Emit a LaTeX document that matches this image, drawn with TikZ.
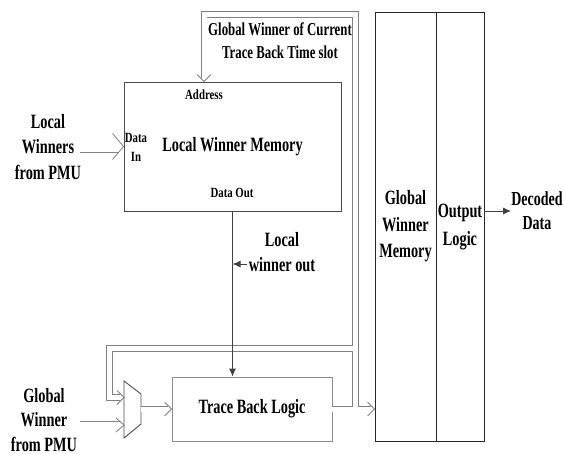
\documentclass[tikz,border=0pt]{standalone}
\usepackage{fontspec}
\setmainfont{Liberation Serif}
\usetikzlibrary{arrows.meta}

\begin{document}
\begin{tikzpicture}[x=1pt, y=-1pt,
	blk/.style={draw=black!70, line width=0.9pt, inner sep=0pt},
	txt/.style={font=\bfseries\fontsize{14.3}{18}\selectfont, align=center, yscale=1.42, transform shape, inner sep=0pt},
	sml/.style={font=\bfseries\fontsize{10.8}{15}\selectfont, align=center, yscale=1.3, transform shape, inner sep=0pt},
	bus/.style={double=white, double distance=#1, line width=0.8pt, draw=black!50},
	bus/.default=5pt,
	chev/.style={draw=black!50, line width=0.8pt, line join=miter},
	wire/.style={line width=0.9pt, draw=black!75, -{Latex[length=8pt,width=7pt]}}]
\useasboundingbox (0,0) rectangle (564,454);

% blocks
\path (232.5,146.5) node[blk, minimum width=217, minimum height=129] (lwm) {};
\path (252,409) node[blk, draw=black!45, minimum width=160, minimum height=64] (tbl) {};
\path (405.5,226.5) node[blk, draw=black!85, minimum width=61, minimum height=429] (gwm) {};
\path (460,226.5) node[blk, draw=black!85, minimum width=48, minimum height=429] (outl) {};

% mux
\coordinate (m1) at (124,381);
\coordinate (m2) at (141,394);
\coordinate (m3) at (141,424);
\coordinate (m4) at (124,438);
\draw[blk] (m1) -- (m2) -- (m3) -- (m4) -- cycle;
\coordinate (muxa) at (124,397.5);
\coordinate (muxb) at (124,425);
\coordinate (muxo) at (141,409);

% texts
\path (lwm.center) node[txt] (lwmtxt) {Local Winner Memory};
\path (204,95) node[sml] (addr) {Address};
\path (136,147) node[sml, font=\bfseries\fontsize{10.8}{14.6}\selectfont] (datain) {Data\\In};
\path (232,193) node[sml] (dataout) {Data Out};
\path (tbl.center) node[txt] (tbltxt) {Trace Back Logic};
\path (gwm.center) node[txt, font=\bfseries\fontsize{14.3}{18.7}\selectfont] (gwmtxt) {Global\\Winner\\Memory};
\path (460,227) node[txt, font=\bfseries\fontsize{14.3}{19.5}\selectfont] (outltxt) {Output\\Logic};
\path (537,210.5) node[txt, font=\bfseries\fontsize{14}{16.5}\selectfont] (dectxt) {Decoded\\Data};
\path (48,147) node[txt] (lwintxt) {Local\\Winners\\from PMU};
\path (44,420) node[txt, font=\bfseries\fontsize{14.3}{17}\selectfont] (gwintxt) {Global\\Winner\\from PMU};
\path (280,41) node[txt, font=\bfseries\fontsize{12.8}{16.2}\selectfont] (gwctxt) {Global Winner of Current\\Trace Back Time slot};
\path (282,252.5) node[txt, font=\bfseries\fontsize{14.3}{17.6}\selectfont] (lwotxt) {Local\\winner out};

% inputs
\coordinate (lwin) at (80,146.5);
\draw[bus=12pt, shorten >=5.5pt] (lwin) -- (lwm.west);
\draw[chev] ([shift={(-11,-13)}]lwm.west) -- (lwm.west) -- ([shift={(-11,13)}]lwm.west);
\coordinate (gwin) at (80,425);
\draw[bus=7pt, shorten >=3.5pt] (gwin) -- (muxb);
\draw[chev] ([shift={(-8,-7)}]muxb) -- (muxb) -- ([shift={(-8,7)}]muxb);
\draw[bus, shorten >=3.7pt] (muxo) -- (tbl.west);
\draw[chev] ([shift={(-7,-7)}]tbl.west) -- (tbl.west) -- ([shift={(-7,7)}]tbl.west);

% global winner bus
\coordinate (jn) at (355.5,409);
\coordinate (topr) at (355.5,14.5);
\coordinate (topl) at (204,14.5);
\coordinate (addrtl) at (204,60);
\coordinate (brr) at (355.5,348.5);
\coordinate (brl) at (109.5,348.5);
\coordinate (gwmin) at (gwm.west |- tbl.east);
\coordinate (addrin) at (topl |- lwm.north);
\draw[bus, shorten <=3.7pt, shorten >=3.7pt]
	(tbl.east) -- (jn)
	(brr) -- (topr) -- (topl) -- (addrtl)
	(muxa) -| (brl) -- (brr) -- (jn) -- (gwmin);
\draw[bus, shorten >=3.7pt] (addrtl) -- (addrin);
\draw[chev] ([shift={(-7,-7)}]muxa) -- (muxa) -- ([shift={(-7,7)}]muxa);
\draw[chev] ([shift={(-7,-7)}]gwmin) -- (gwmin) -- ([shift={(-7,7)}]gwmin);
\draw[chev] ([shift={(-7,-7)}]addrin) -- (addrin) -- ([shift={(7,-7)}]addrin);

% local winner out
\draw[wire] (lwm.south) -- (lwm.south |- tbl.north);
\coordinate (lwotl) at (247,264);
\draw[wire] (lwotl) -- (lwotl -| lwm.south);

% decoded data
\coordinate (dec) at (511,211);
\draw[wire] (dec -| outl.east) -- (dec);
\end{tikzpicture}
\end{document}
